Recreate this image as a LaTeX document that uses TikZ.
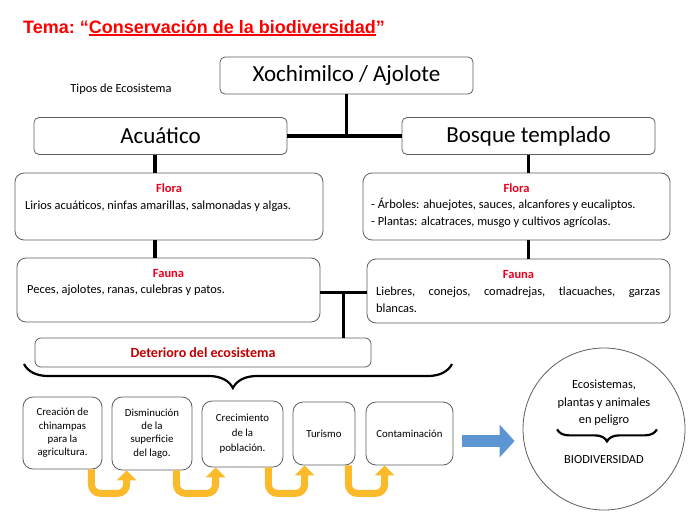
\documentclass[tikz,border=0pt]{standalone}
\usepackage{fontspec}
\setmainfont{Carlito}
\newfontfamily\titlefont{Liberation Sans}
\usepackage{xcolor}
\usepackage{tikz}
\usetikzlibrary{shapes,arrows.meta,positioning,calc,decorations.pathreplacing}

\definecolor{titlered}{RGB}{255,0,0}
\definecolor{headred}{RGB}{235,0,30}
\definecolor{deepred}{RGB}{192,0,0}
\definecolor{boxgray}{RGB}{95,95,95}
\definecolor{arrowgold}{RGB}{250,186,42}
\definecolor{arrowblue}{RGB}{91,150,210}

\newcommand{\thickuline}[1]{\setbox0\hbox{#1}\rlap{\rule[-2.6pt]{\wd0}{1.6pt}}\box0}

\begin{document}
\begin{tikzpicture}[x=1pt, y=-1pt,
        topbox/.style={rectangle, draw=boxgray, line width=0.8pt, rounded corners=5pt, minimum width=253pt, minimum height=37pt, font=\fontsize{23}{27}\selectfont},
        infobox/.style={rectangle, draw=boxgray, line width=0.8pt, rounded corners=9pt},
        head/.style={font=\fontsize{12.5}{15}\selectfont\bfseries, text=headred},
        body/.style={font=\fontsize{12.4}{17}\selectfont, anchor=west, inner sep=0pt, align=left},
        stagebox/.style={rectangle, draw=boxgray, line width=0.8pt, rounded corners=10pt, inner sep=0pt, align=center, font=\fontsize{10.8}{13.4}\selectfont},
        link/.style={line width=3.8pt},
        uarrow/.style={line width=7pt, draw=arrowgold, rounded corners=9pt, -{Triangle[width=19pt,length=10pt]}},
        bluearrow/.style={line width=12pt, draw=arrowblue, -{Triangle[width=32pt,length=15pt]}},
        curly/.style={decorate, decoration={brace, mirror, amplitude=#1}, line width=2.2pt}
    ]

    \useasboundingbox (0,0) rectangle (692,514);
    \fill[white] (0,0) rectangle (692,514);

    % Title
    \node[anchor=base west, inner sep=0pt, text=titlered, font=\titlefont\bfseries\fontsize{18}{22}\selectfont] (title) at (23,33) {Tema:\ “\thickuline{Conservación de la biodiversidad}”};

    % Main topic and ecosystem types
    \node[topbox] (xochi) at (346.5,75.5) {Xochimilco / Ajolote};
    \node[font=\fontsize{12.4}{15}\selectfont] (tipos) at (121,89) {Tipos de Ecosistema};
    \node[topbox] (acua) at (160.5,136) {Acuático};
    \node[topbox] (bosque) at (528.5,136) {Bosque templado};

    \draw[link] (acua.east) -- (bosque.west);
    \draw[link] (xochi.south) -- (xochi.south |- acua.east);

    % Aquatic side
    \node[infobox, minimum width=308pt, minimum height=67pt] (floraA) at (169,206.5) {};
    \node[head, below=8pt of floraA.north] (floraAh) {Flora};
    \node[body] (floraAt) at (25,206) {Lirios acuáticos, ninfas amarillas, salmonadas y algas.};

    \node[infobox, minimum width=303pt, minimum height=64pt] (faunaA) at (168.5,290) {};
    \node[head, below=8pt of faunaA.north] (faunaAh) {Fauna};
    \node[body] (faunaAt) at (27,290) {Peces, ajolotes, ranas, culebras y patos.};

    \draw[link] ([xshift=-5.5pt]acua.south) -- ([xshift=-5.5pt]acua.south |- floraA.north);
    \draw[link] ([xshift=-5.5pt]acua.south |- floraA.south) -- ([xshift=-5.5pt]acua.south |- faunaA.north);

    % Temperate forest side
    \node[infobox, minimum width=307pt, minimum height=67pt] (floraB) at (516.5,206.5) {};
    \node[head, below=8pt of floraB.north] (floraBh) {Flora};
    \node[body] (floraBt) at (371,212.5) {- Árboles: ahuejotes, sauces, alcanfores y eucaliptos.\\- Plantas: alcatraces, musgo y cultivos agrícolas.};

    \node[infobox, minimum width=303pt, minimum height=64pt] (faunaB) at (518.5,291) {};
    \node[head, below=8pt of faunaB.north] (faunaBh) {Fauna};
    \node[body] (faunaBt) at (376,299.5) {\makebox[284pt][s]{Liebres, conejos, comadrejas, tlacuaches, garzas}\\blancas.};

    \draw[link] (bosque.south) -- (bosque.south |- floraB.north);
    \draw[link] (bosque.south |- floraB.south) -- (bosque.south |- faunaB.north);

    % Deterioration
    \node[infobox, rounded corners=6pt, minimum width=336pt, minimum height=29pt, font=\fontsize{14}{17}\selectfont\bfseries, text=deepred] (deter) at (203,352.5) {Deterioro del ecosistema};

    \coordinate (fork) at ($([yshift=-2.5pt]faunaA.east)!0.5!([yshift=-1.5pt]faunaB.west)$);
    \draw[link] ([yshift=-2.5pt]faunaA.east) -- ([yshift=-1.5pt]faunaB.west);
    \draw[link] (fork) -- (fork |- deter.north);

    \coordinate (braceL) at (24,364);
    \coordinate (braceR) at (452,364);
    \draw[curly=24, decoration={aspect=0.488}] (braceL) -- (braceR);

    % Causes
    \node[stagebox, minimum width=79pt, minimum height=72pt] (st1) at (62.5,433) {Creación de\\chinampas\\para la\\agricultura.};
    \node[stagebox, minimum width=80pt, minimum height=73pt] (st2) at (152,433.5) {Disminución\\de la\\superficie\\del lago.};
    \node[stagebox, minimum width=81pt, minimum height=66pt, font=\fontsize{10.8}{15}\selectfont] (st3) at (242.5,434) {Crecimiento\\de la\\población.};
    \node[stagebox, minimum width=62pt, minimum height=63pt] (st4) at (324,433.5) {Turismo};
    \node[stagebox, minimum width=87pt, minimum height=63pt] (st5) at (409.5,433.5) {Contaminación};

    \draw[uarrow] ([xshift=-11pt]st1.south east) -- ++(0,24) -| ([xshift=15pt]st2.south west);
    \draw[uarrow] ([xshift=-16pt]st2.south east) -- ++(0,23) -| ([xshift=14pt]st3.south west);
    \draw[uarrow] ([xshift=-15pt]st3.south east) -- ++(0,26) -| ([xshift=12pt]st4.south west);
    \draw[uarrow] ([xshift=-7pt]st4.south east) -- ++(0,28) -| ([xshift=19pt]st5.south west);

    % Result
    \node[circle, draw=boxgray, line width=0.8pt, minimum size=162pt, inner sep=0pt] (bio) at (604,429) {};
    \node[font=\fontsize{12.4}{17.5}\selectfont, align=center] (peligro) at (604,403) {Ecosistemas,\\plantas y animales\\en peligro};
    \draw[curly=12] ([xshift=3pt]peligro.south west) -- ([xshift=3pt]peligro.south east);
    \node[font=\fontsize{12.4}{15}\selectfont] (biodiv) at (604,460) {BIODIVERSIDAD};

    \coordinate (flow) at (0,441);
    \draw[bluearrow] ([xshift=9pt]st5.east |- flow) -- ([xshift=-8pt]bio.west |- flow);

\end{tikzpicture}
\end{document}
